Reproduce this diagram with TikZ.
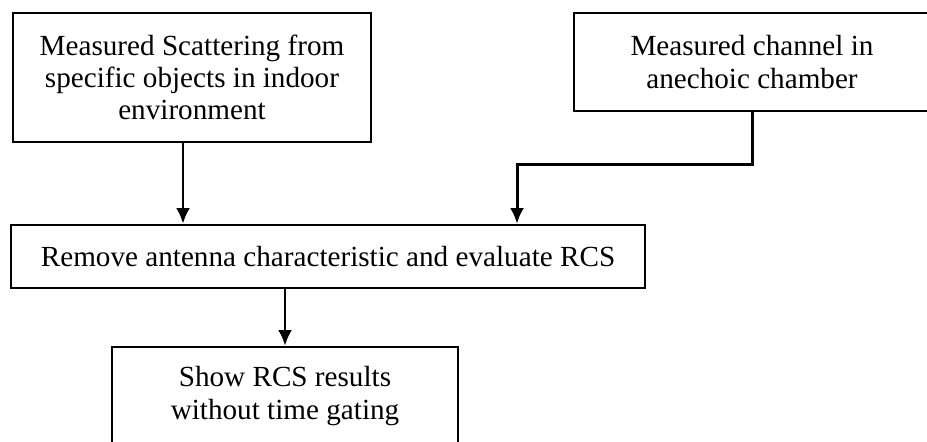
\documentclass[tikz,border=0pt]{standalone}
\usepackage{fontspec}
\setmainfont{Liberation Serif}
\usepackage{tikz}
\usetikzlibrary{positioning}
\usetikzlibrary{arrows.meta}
\usetikzlibrary{calc}
\tikzstyle{line} = [draw, -{Latex[length=9pt, width=8pt]}, line width=1.7pt]

\begin{document}
\begin{tikzpicture}[internal/.style={draw, rectangle, line width=1.3pt, inner sep=4pt, font=\fontsize{16.6}{18.4}\selectfont},
			every text node part/.style={align=center}]
			\useasboundingbox (0, 0) rectangle (18.54, -8.84);
			\node[internal, minimum width=7.16cm, minimum height=2.58cm](node1) at (3.84, -1.55) {Measured Scattering from\\specific objects in indoor\\environment};
			
			\node[internal, minimum width=7.12cm, minimum height=1.96cm](node2) at (15.04, -1.24) {Measured channel in\\anechoic chamber};
			
			\node[internal, minimum width=12.68cm, minimum height=1.26cm](node3) at (6.56, -5.13) {Remove antenna characteristic and evaluate RCS};
			
			\node[internal, minimum width=6.92cm, minimum height=1.96cm](node4) at (5.70, -7.92) {Show RCS results\\without time gating};
			
			\draw[line] ([xshift=-0.18cm]node1.south) -- ([xshift=-0.18cm]node1.south |- node3.north);
			\draw[line] (node2.south) -- ++(0, -1.04) -| ([xshift=3.78cm]node3.north);
			\draw[line] (node4.north |- node3.south) -- (node4.north);
		\end{tikzpicture}
\end{document}
